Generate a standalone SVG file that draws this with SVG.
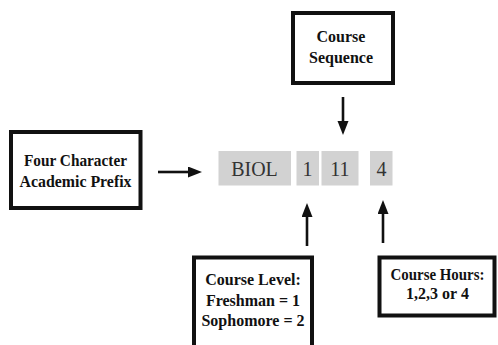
<svg xmlns="http://www.w3.org/2000/svg" width="498" height="345" viewBox="0 0 498 345">
<style>
.box{fill:#fff;stroke:#111;stroke-width:4}
.lbl{font-family:"Liberation Serif","Times New Roman",serif;font-weight:bold;font-size:16px;fill:#111;text-anchor:middle}
.cell{fill:#d2d2d2}
.ct{font-family:"Liberation Serif","Times New Roman",serif;font-size:20px;fill:#333;text-anchor:middle}
.conn{stroke:#111;stroke-width:2.6;fill:none}
</style>
<defs>
<marker id="ah" markerUnits="userSpaceOnUse" markerWidth="14" markerHeight="12" refX="2" refY="5.5" orient="auto">
<path d="M0,0 L14,5.5 L0,11 z" fill="#111"/>
</marker>
</defs>
<rect width="498" height="345" fill="#fff"/>
<g id="prefix">
<rect class="box" x="11" y="132" width="129.5" height="76"/>
<text class="lbl" x="75.5" y="166" textLength="103" lengthAdjust="spacingAndGlyphs">Four Character</text>
<text class="lbl" x="75.5" y="187" textLength="112" lengthAdjust="spacingAndGlyphs">Academic Prefix</text>
</g>
<g id="sequence">
<rect class="box" x="293" y="13" width="100" height="70"/>
<text class="lbl" x="341" y="42">Course</text>
<text class="lbl" x="341" y="63">Sequence</text>
</g>
<g id="code">
<rect class="cell" x="218.5" y="151" width="72.5" height="34.5"/>
<rect class="cell" x="296.5" y="151" width="22.5" height="34.5"/>
<rect class="cell" x="321.5" y="151" width="37" height="34.5"/>
<rect class="cell" x="370" y="151" width="22.5" height="34.5"/>
<text class="ct" x="254.5" y="176">BIOL</text>
<text class="ct" x="307.5" y="176">1</text>
<text class="ct" x="340" y="176">11</text>
<text class="ct" x="381.5" y="176">4</text>
</g>
<g id="level">
<rect class="box" x="194" y="257.5" width="118" height="95"/>
<text class="lbl" x="253" y="285">Course Level:</text>
<text class="lbl" x="253" y="305.5">Freshman = 1</text>
<text class="lbl" x="253" y="326">Sophomore = 2</text>
</g>
<g id="hours">
<rect class="box" x="379.5" y="257.5" width="115" height="58"/>
<text class="lbl" x="437.5" y="280" textLength="94" lengthAdjust="spacingAndGlyphs">Course Hours:</text>
<text class="lbl" x="437.5" y="298.5">1,2,3 or 4</text>
</g>
<g id="connectors">
<line class="conn" x1="158" y1="172" x2="190" y2="172" marker-end="url(#ah)"/>
<line class="conn" x1="343" y1="97" x2="343" y2="123" marker-end="url(#ah)"/>
<line class="conn" x1="307" y1="246" x2="307" y2="215" marker-end="url(#ah)"/>
<line class="conn" x1="383" y1="243" x2="383" y2="212" marker-end="url(#ah)"/>
</g>
</svg>
